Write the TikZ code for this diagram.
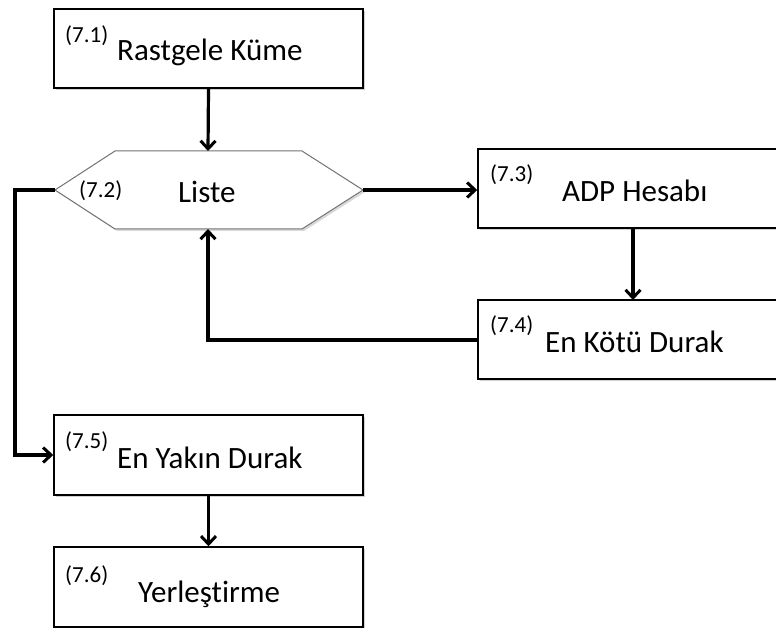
\documentclass[tikz,border=0pt]{standalone}
\usepackage{fontspec}
\setmainfont{Carlito}[Ligatures=NoCommon]
\usetikzlibrary{arrows.meta}
\begin{document}
\begin{tikzpicture}[x=1pt,y=-1pt,
  box/.style={draw=black, line width=1.5pt, fill=white, minimum width=309pt, minimum height=79pt, inner sep=0pt},
  shade/.style={fill=black!18},
  conn/.style={line width=3.2pt, -{Straight Barb[length=8pt,width=15pt,line width=3pt]}},
  tag/.style={anchor=base west, inner sep=0pt, font=\fontsize{23}{27}\selectfont},
  main/.style={anchor=base west, inner sep=0pt, font=\fontsize{31}{36}\selectfont}]
\useasboundingbox (0,0) rectangle (776,628);
\fill[white] (0,0) rectangle (776,628);

% soft drop shadows
\fill[shade] (56,11) rectangle (365,90);
\fill[shade] (480,151) rectangle (780,230);
\fill[shade] (480,302) rectangle (780,381);
\fill[shade] (56,417) rectangle (365,497);
\fill[shade] (56,549) rectangle (365,630);

% process boxes
\node[box] (b1) at (208.5,48.5) {};
\node[box, minimum width=300pt] (b3) at (628,188.5) {};
\node[box, minimum width=300pt] (b4) at (628,339.5) {};
\node[box, minimum height=80pt] (b5) at (208.5,455) {};
\node[box, minimum height=80pt] (b6) at (208.5,587) {};

% list hexagon
\coordinate (hl) at (55,190);
\coordinate (hr) at (363,190);
\coordinate (ht) at (208,151);
\coordinate (hb) at (208,229);
\fill[black!15] (57,192) -- (117,153) -- (304,153) -- (365,192) -- (304,231) -- (117,231) -- cycle;
\draw[draw=black!55, line width=1pt, fill=white] (hl) -- (115,151) -- (302,151) -- (hr) -- (302,229) -- (115,229) -- cycle;

% labels
\node[tag] at (65,43) {(7.1)};
\node[main] at (117,61) {Rastgele Küme};
\node[tag] at (79,198) {(7.2)};
\node[main] at (178,203) {Liste};
\node[tag] at (490,182) {(7.3)};
\node[main] at (562,202) {ADP Hesabı};
\node[tag] at (490,332) {(7.4)};
\node[main] at (545,352) {En Kötü Durak};
\node[tag] at (65,448) {(7.5)};
\node[main] at (117,468) {En Yakın Durak};
\node[tag] at (65,582) {(7.6)};
\node[main] at (138,602) {Yerleştirme};

% connectors
\coordinate (lk) at (15,190);
\coordinate (fb) at (208,340);
\draw[conn] (b1.south) -- (ht);
\draw[conn] (hr) -- (b3.west |- hr);
\draw[conn] (b3.south -| 633,0) -- (633,300);
\draw[conn] (b4.west |- fb) -- (fb) -- (hb);
\draw[conn] (hl) -- (lk) |- (b5.west);
\draw[conn] (b5.south) -- (b6.north);
\end{tikzpicture}
\end{document}
